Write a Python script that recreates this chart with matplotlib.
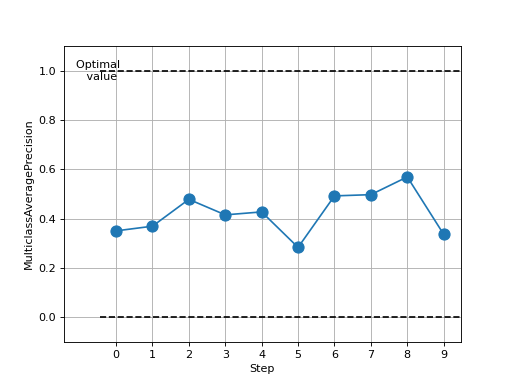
import matplotlib
matplotlib.use("Agg")
import matplotlib.pyplot as plt

# data
steps = [0, 1, 2, 3, 4, 5, 6, 7, 8, 9]
values = [0.350, 0.369, 0.478, 0.415, 0.427, 0.283, 0.492, 0.497, 0.569, 0.336]
bounds = [0.0, 1.0]
optimal = 1.0

fig, ax = plt.subplots(figsize=(6.4, 4.8), dpi=80)
ax.plot(steps, values, marker="o", markersize=10, color="tab:blue")

xlim = (-1.43, 9.47)
ax.hlines(bounds, -0.45, xlim[1], linestyles="dashed", colors="k")
ax.text(-0.44, optimal, "Optimal \n value", ha="center", va="center")

ax.set_xlim(xlim)
ax.set_ylim(-0.1, 1.1)
ax.set_xticks(steps)
ax.set_xlabel("Step")
ax.set_ylabel("MulticlassAveragePrecision")
ax.grid(True)

fig.savefig("out.png")
